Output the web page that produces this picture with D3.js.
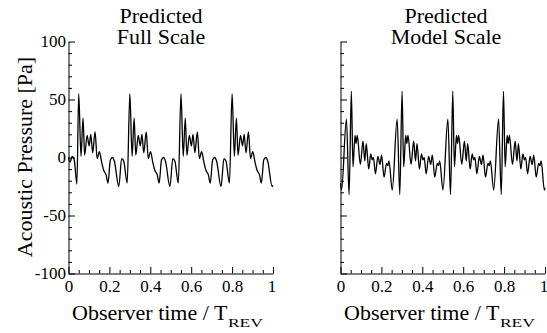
<!DOCTYPE html>
<html><head><meta charset="utf-8">
<script src="https://cdn.jsdelivr.net/npm/d3@7"></script>
<style>
html,body{margin:0;padding:0;background:#fff;}
svg{display:block;}
svg text{font-family:Liberation Serif;}
</style></head>
<body>
<svg id="chart" width="547" height="333"></svg>
<script>
// ---- data ----
const panelTitles = [["Predicted","Full Scale"],["Predicted","Model Scale"]];
const xTicks = [0, 0.2, 0.4, 0.6, 0.8, 1];
const xTickLabels = ["0","0.2","0.4","0.6","0.8","1"];
const xMinorTicks = [0.05,0.1,0.15,0.25,0.3,0.35,0.45,0.5,0.55,0.65,0.7,0.75,0.85,0.9,0.95];
const yTicks = [-100, -50, 0, 50, 100];
const yTickLabels = ["-100","-50","0","50","100"];
const yMinorTicks = [-90,-80,-70,-60,-40,-30,-20,-10,10,20,30,40,60,70,80,90];

const fullTime = [0.000,0.008,0.018,0.028,0.041,0.050,
 0.061,0.071,0.079,0.091,0.101,0.109,0.118,0.130,0.140,0.151,0.162,0.172,0.184,0.193,0.205,0.215,0.224,0.246,0.260,0.270,0.287,
 0.300,0.311,0.321,0.329,0.341,0.351,0.359,0.368,0.380,0.390,0.401,0.412,0.422,0.434,0.443,0.455,0.465,0.474,0.496,0.510,0.520,0.537,
 0.550,0.561,0.571,0.579,0.591,0.601,0.609,0.618,0.630,0.640,0.651,0.662,0.672,0.684,0.693,0.705,0.715,0.724,0.746,0.760,0.770,0.787,
 0.800,0.811,0.821,0.829,0.841,0.851,0.859,0.868,0.880,0.890,0.901,0.912,0.922,0.934,0.943,0.955,0.965,0.974,0.996,1.000];
const fullPressure = [0,-4,1,-2,-23,55,
 1,34,2,19,10,20,4,22,-1,5,-4,-11,-15,-22,-2,0,-3,-25,-1,-3,-22,
 55,1,34,2,19,10,20,4,22,-1,5,-4,-11,-15,-22,-2,0,-3,-25,-1,-3,-22,
 55,1,34,2,19,10,20,4,22,-1,5,-4,-11,-15,-22,-2,0,-3,-25,-1,-3,-22,
 55,1,34,2,19,10,20,4,22,-1,5,-4,-11,-15,-22,-2,0,-3,-25,-24];

const modelTime = [0.000,0.005,0.029,0.042,0.053,
 0.061,0.071,0.076,0.082,0.097,0.110,0.119,0.126,0.138,0.148,0.155,0.161,0.171,0.183,0.193,0.201,0.213,0.225,0.231,0.237,0.253,0.277,0.290,
 0.301,0.309,0.319,0.324,0.330,0.345,0.358,0.367,0.374,0.386,0.396,0.403,0.409,0.419,0.431,0.441,0.449,0.461,0.473,0.479,0.485,0.501,0.525,0.538,
 0.549,0.557,0.567,0.572,0.578,0.593,0.606,0.615,0.622,0.634,0.644,0.651,0.657,0.667,0.679,0.689,0.697,0.709,0.721,0.727,0.733,0.749,0.773,0.786,
 0.797,0.805,0.815,0.820,0.826,0.841,0.854,0.863,0.870,0.882,0.892,0.899,0.905,0.915,0.927,0.937,0.945,0.957,0.969,0.975,0.981,0.997,1.000];
const modelPressure = [-22,-28,33,-32,57,
 -8,19,12,19,-6,14,-3,12,-10,3,-2,0,-14,1,-6,2,-17,-5,-7,-3,-28,33,-32,
 57,-8,19,12,19,-6,14,-3,12,-10,3,-2,0,-14,1,-6,2,-17,-5,-7,-3,-28,33,-32,
 57,-8,19,12,19,-6,14,-3,12,-10,3,-2,0,-14,1,-6,2,-17,-5,-7,-3,-28,33,-32,
 57,-8,19,12,19,-6,14,-3,12,-10,3,-2,0,-14,1,-6,2,-17,-5,-7,-3,-28,-26];

// ---- drawing ----
const svg = d3.select("#chart");
const y = d3.scaleLinear().domain([-100, 100]).range([273.5, 41.5]);
const panels = [
  {x0: 68.5, x1: 273, time: fullTime, p: fullPressure, titleX: 161, showY: true},
  {x0: 340.5, x1: 545, time: modelTime, p: modelPressure, titleX: 446, showY: false}
];

function txt(sel, size) {
  return sel.attr("font-family", "Liberation Serif").attr("font-size", size).attr("fill", "#000");
}

panels.forEach((pn, i) => {
  const x = d3.scaleLinear().domain([0, 1]).range([pn.x0, pn.x1]);
  const g = svg.append("g");

  // minor ticks
  g.append("g").attr("transform", `translate(0,${y(-100)})`)
    .call(d3.axisBottom(x).tickValues(xMinorTicks).tickSize(-3.5).tickSizeOuter(0).tickFormat(""))
    .call(s => s.select(".domain").remove());
  g.append("g").attr("transform", `translate(${pn.x0},0)`)
    .call(d3.axisLeft(y).tickValues(yMinorTicks).tickSize(-3.5).tickSizeOuter(0).tickFormat(""))
    .call(s => s.select(".domain").remove());

  // major axes
  const xa = g.append("g").attr("transform", `translate(0,${y(-100)})`)
    .call(d3.axisBottom(x).tickValues(xTicks).tickSize(-6.5).tickSizeOuter(0).tickPadding(6)
      .tickFormat((d, k) => xTickLabels[k]));
  const ya = g.append("g").attr("transform", `translate(${pn.x0},0)`)
    .call(d3.axisLeft(y).tickValues(yTicks).tickSize(-6.5).tickSizeOuter(0).tickPadding(2.5)
      .tickFormat((d, k) => pn.showY ? yTickLabels[k] : ""));
  [xa, ya].forEach(a => {
    a.attr("font-family", "Liberation Serif").attr("font-size", 17);
    txt(a.selectAll("text"), 17);
    a.selectAll("line,path").attr("stroke", "#000").attr("stroke-width", 1);
  });
  // keep the last tick label inside the picture
  xa.selectAll(".tick text").filter(d => d === 1).attr("dx", "-1.5");

  // data line
  const line = d3.line().x((d, k) => x(pn.time[k])).y(d => y(d)).curve(d3.curveMonotoneX);
  g.append("path").datum(pn.p).attr("d", line)
    .attr("fill", "none").attr("stroke", "#000").attr("stroke-width", 1.3).attr("stroke-linejoin", "round");

  // titles
  txt(g.append("text").attr("x", pn.titleX).attr("y", 23.3).attr("text-anchor", "middle"), 22).text(panelTitles[i][0]);
  txt(g.append("text").attr("x", pn.titleX).attr("y", 44.3).attr("text-anchor", "middle"), 22).text(panelTitles[i][1]);

  // x axis title
  const xt = txt(g.append("text").attr("x", pn.x0 + 3.5).attr("y", 320), 22).text("Observer time / T");
  const w = xt.node().getComputedTextLength();
  txt(g.append("text").attr("x", pn.x0 + 3.5 + w + 0.5).attr("y", 327.3), 13)
    .attr("textLength", 35).attr("lengthAdjust", "spacingAndGlyphs").text("REV");

  if (pn.showY) {
    txt(g.append("text").attr("transform", `translate(32,157) rotate(-90)`).attr("text-anchor", "middle"), 22)
      .text("Acoustic Pressure [Pa]");
  }
});
</script>
</body></html>
